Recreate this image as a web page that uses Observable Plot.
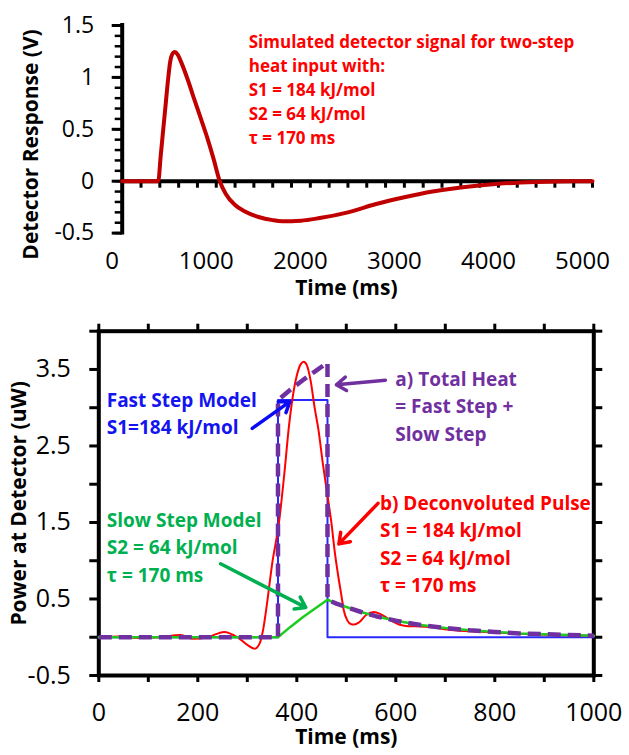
<!DOCTYPE html>
<html>
<head>
<meta charset="utf-8">
<script src="https://cdn.jsdelivr.net/npm/d3@7"></script>
<script src="https://cdn.jsdelivr.net/npm/@observablehq/plot@0.6"></script>
<style>
  body { margin: 0; background: #fff; }
  #wrap { position: relative; width: 629px; height: 755px; overflow: hidden; }
  #wrap svg { position: absolute; left: 0; overflow: visible; }
</style>
</head>
<body>
<div id="wrap"></div>
<script>
// ---------- Top panel: simulated detector signal ----------
const detTime   = [0, 300, 383, 410, 430, 460, 490, 510, 530, 559, 590, 630, 700, 762, 830, 904, 970, 1037, 1100, 1200, 1300, 1450, 1600, 1700, 1900, 2100, 2400, 2700, 3000, 3300, 3600, 4000, 4400, 4800, 5000];
const detSignal = [0, 0, 0, 0.25, 0.44, 0.72, 1.0, 1.15, 1.22, 1.245, 1.22, 1.14, 0.97, 0.80, 0.62, 0.42, 0.22, 0, -0.12, -0.23, -0.29, -0.345, -0.375, -0.385, -0.38, -0.355, -0.3, -0.22, -0.155, -0.1, -0.06, -0.025, -0.008, 0, 0];
const topXTickLabels = [0, 1000, 2000, 3000, 4000, 5000];
const topYTickLabels = [-0.5, 0, 0.5, 1, 1.5];
const topNote = "Simulated detector signal for two-step\nheat input with:\nS1 = 184 kJ/mol\nS2 = 64 kJ/mol\nτ = 170 ms";

// ---------- Bottom panel: power at detector ----------
const fastTime  = [0, 362, 362, 462, 462, 1000];
const fastPower = [0, 0, 3.1, 3.1, 0, 0];

const slowTime  = [0, 362, 387, 412, 437, 462, 480, 500, 530, 560, 600, 650, 700, 750, 800, 850, 900, 950, 1000];
const slowPower = [0, 0, 0.135, 0.26, 0.375, 0.49, 0.44, 0.395, 0.33, 0.275, 0.215, 0.16, 0.12, 0.09, 0.07, 0.05, 0.04, 0.03, 0.02];

const totalTime  = [0, 362, 362, 387, 412, 437, 462, 462, 480, 500, 530, 560, 600, 650, 700, 750, 800, 850, 900, 950, 1000];
const totalPower = [0, 0, 3.1, 3.235, 3.36, 3.475, 3.59, 0.49, 0.44, 0.395, 0.33, 0.275, 0.215, 0.16, 0.12, 0.09, 0.07, 0.05, 0.04, 0.03, 0.02];

const pulseTime  = [0, 40, 80, 120, 165, 190, 220, 253, 280, 300, 315, 325, 332, 340, 350, 364, 375, 384, 392, 400, 408, 414, 420, 428, 436, 444, 452, 462, 470, 477, 483, 490, 495, 502, 510, 516, 525, 540, 556, 570, 590, 610, 625, 650, 680, 704, 740, 780, 820, 870, 920, 960, 1000];
const pulsePower = [0, 0.01, -0.01, 0, 0.03, -0.02, 0, 0.07, 0, -0.1, -0.15, -0.08, 0.1, 0.45, 0.95, 1.5, 2.15, 2.75, 3.15, 3.42, 3.57, 3.6, 3.56, 3.35, 3.0, 2.7, 2.3, 1.85, 1.49, 1.1, 0.83, 0.55, 0.35, 0.22, 0.17, 0.165, 0.19, 0.29, 0.33, 0.3, 0.22, 0.16, 0.145, 0.14, 0.125, 0.1, 0.08, 0.07, 0.055, 0.04, 0.03, 0.025, 0.02];

const botXTickLabels = [0, 200, 400, 600, 800, 1000];
const botYTickLabels = [-0.5, 0.5, 1.5, 2.5, 3.5];

// annotation blocks (data coordinates of text anchor)
const notes = [
  {text: "Fast Step Model\nS1=184 kJ/mol", x: 16, y: 2.95, color: "#1414F0"},
  {text: "Slow Step Model\nS2 = 64 kJ/mol\nτ = 170 ms", x: 16, y: 1.20, color: "#00B050"},
  {text: "a) Total Heat\n= Fast Step +\nSlow Step", x: 599, y: 3.04, color: "#7030A0"},
  {text: "b) Deconvoluted Pulse\nS1 = 184 kJ/mol\nS2 = 64 kJ/mol\nτ = 170 ms", x: 568, y: 1.24, color: "#FF0000"}
];
const arrows = [
  {x1: 310, y1: 2.73, x2: 386, y2: 3.08, color: "#0A0AF5"},
  {x1: 579, y1: 3.36, x2: 480, y2: 3.30, color: "#7030A0"},
  {x1: 564, y1: 1.75, x2: 485, y2: 1.22, color: "#FF0000"},
  {x1: 246, y1: 0.96, x2: 418, y2: 0.39, color: "#00B050"}
];

const FONT = "'Open Sans', Lato, sans-serif";
const zip = (xs, ys) => xs.map((x, i) => ({x, y: ys[i]}));
const fmt = d => String(d);

// ---------- Top chart ----------
const topChart = Plot.plot({
  width: 629, height: 300,
  marginLeft: 121.7, marginRight: 37, marginTop: 25, marginBottom: 67.4,
  x: {domain: [0, 5000], axis: null},
  y: {domain: [-0.5, 1.5], axis: null},
  style: {fontFamily: FONT, background: "transparent", overflow: "visible"},
  marks: [
    Plot.ruleY(d3.range(-0.5, 1.51, 0.1).map(d => +d.toFixed(2)), {x1: 0, x2: 0, insetLeft: -7, stroke: "black", strokeWidth: 2.5}),
    Plot.ruleY(topYTickLabels, {x1: 0, x2: 0, insetLeft: -10, stroke: "black", strokeWidth: 3}),
    Plot.ruleX(d3.range(200, 5001, 200), {y1: 0, y2: 0, insetBottom: -7, stroke: "black", strokeWidth: 3}),
    Plot.ruleY([0], {stroke: "black", strokeWidth: 4}),
    Plot.ruleX([0], {stroke: "black", strokeWidth: 4, insetBottom: -2, insetTop: -2}),
    Plot.line(zip(detTime, detSignal), {x: "x", y: "y", stroke: "#C00000", strokeWidth: 4, curve: "monotone-x"}),
    Plot.text(topYTickLabels, {x: 0, y: d => d, text: fmt, textAnchor: "end", dx: -28, fontSize: 23}),
    Plot.text(topXTickLabels, {x: d => d, y: -0.5, text: fmt, dx: -10, dy: 28, fontSize: 24}),
    Plot.text([topNote], {x: 1345, y: 0.893, text: d => d, textAnchor: "start", lineAnchor: "middle", lineHeight: 1.41, fontSize: 17, fontWeight: "bold", fill: "#FF0000"}),
    Plot.text(["Time (ms)"], {frameAnchor: "bottom", text: d => d, dx: -11, dy: 61.5, fontSize: 21, fontWeight: "bold"}),
    Plot.text(["Detector Response (V)"], {x: -964, y: 0.354, text: d => d, rotate: -90, fontSize: 21, fontWeight: "bold"})
  ]
});

// ---------- Bottom chart ----------
const botChart = Plot.plot({
  width: 629, height: 455,
  marginLeft: 98.3, marginRight: 35.7, marginTop: 30.7, marginBottom: 80,
  x: {domain: [0, 1000], axis: null},
  y: {domain: [-0.5, 4], axis: null},
  style: {fontFamily: FONT, background: "transparent", overflow: "visible"},
  marks: [
    Plot.ruleY(d3.range(-0.5, 4.01, 0.5), {x1: 0, x2: 0, insetLeft: -9, stroke: "black", strokeWidth: 3}),
    Plot.ruleY(d3.range(-0.5, 4.01, 0.5), {x1: 1000, x2: 1000, insetRight: -9, stroke: "black", strokeWidth: 3}),
    Plot.ruleX(d3.range(0, 1001, 100), {y1: 4, y2: 4, insetTop: -7, stroke: "black", strokeWidth: 3}),
    Plot.ruleX(d3.range(0, 1001, 100), {y1: -0.5, y2: -0.5, insetBottom: -7, stroke: "black", strokeWidth: 3}),
    Plot.frame({stroke: "black", strokeWidth: 4}),
    Plot.line(zip(fastTime, fastPower), {x: "x", y: "y", stroke: "#2828FF", strokeWidth: 2}),
    Plot.line(zip(pulseTime, pulsePower), {x: "x", y: "y", stroke: "#FF0000", strokeWidth: 2, curve: "monotone-x"}),
    Plot.line(zip(slowTime, slowPower), {x: "x", y: "y", stroke: "#1ECC1E", strokeWidth: 2.5}),
    Plot.line(zip(totalTime, totalPower), {x: "x", y: "y", stroke: "#7030A0", strokeWidth: 4.5, strokeDasharray: "13,7", strokeLinecap: "butt"}),
    ...arrows.map(a => Plot.arrow([a], {x1: "x1", y1: "y1", x2: "x2", y2: "y2", stroke: a.color, strokeWidth: 3.5, headLength: 5, headAngle: 70})),
    ...notes.map(n => Plot.text([n], {x: "x", y: "y", text: "text", fill: n.color, textAnchor: "start", lineAnchor: "middle", lineHeight: 1.447, fontSize: 19, fontWeight: "bold"})),
    Plot.text(botYTickLabels, {x: 0, y: d => d, text: fmt, textAnchor: "end", dx: -28, fontSize: 25}),
    Plot.text(botXTickLabels, {x: d => d, y: -0.5, text: fmt, dy: 37, fontSize: 25}),
    Plot.text(["Time (ms)"], {frameAnchor: "bottom", text: d => d, dy: 68, fontSize: 21, fontWeight: "bold"}),
    Plot.text(["Power at Detector (uW)"], {x: -161.6, y: 1.75, text: d => d, rotate: -90, fontSize: 21, fontWeight: "bold"})
  ]
});

const wrap = document.getElementById("wrap");
topChart.style.top = "0px";
botChart.style.top = "300px";
wrap.appendChild(topChart);
wrap.appendChild(botChart);
</script>
</body>
</html>
